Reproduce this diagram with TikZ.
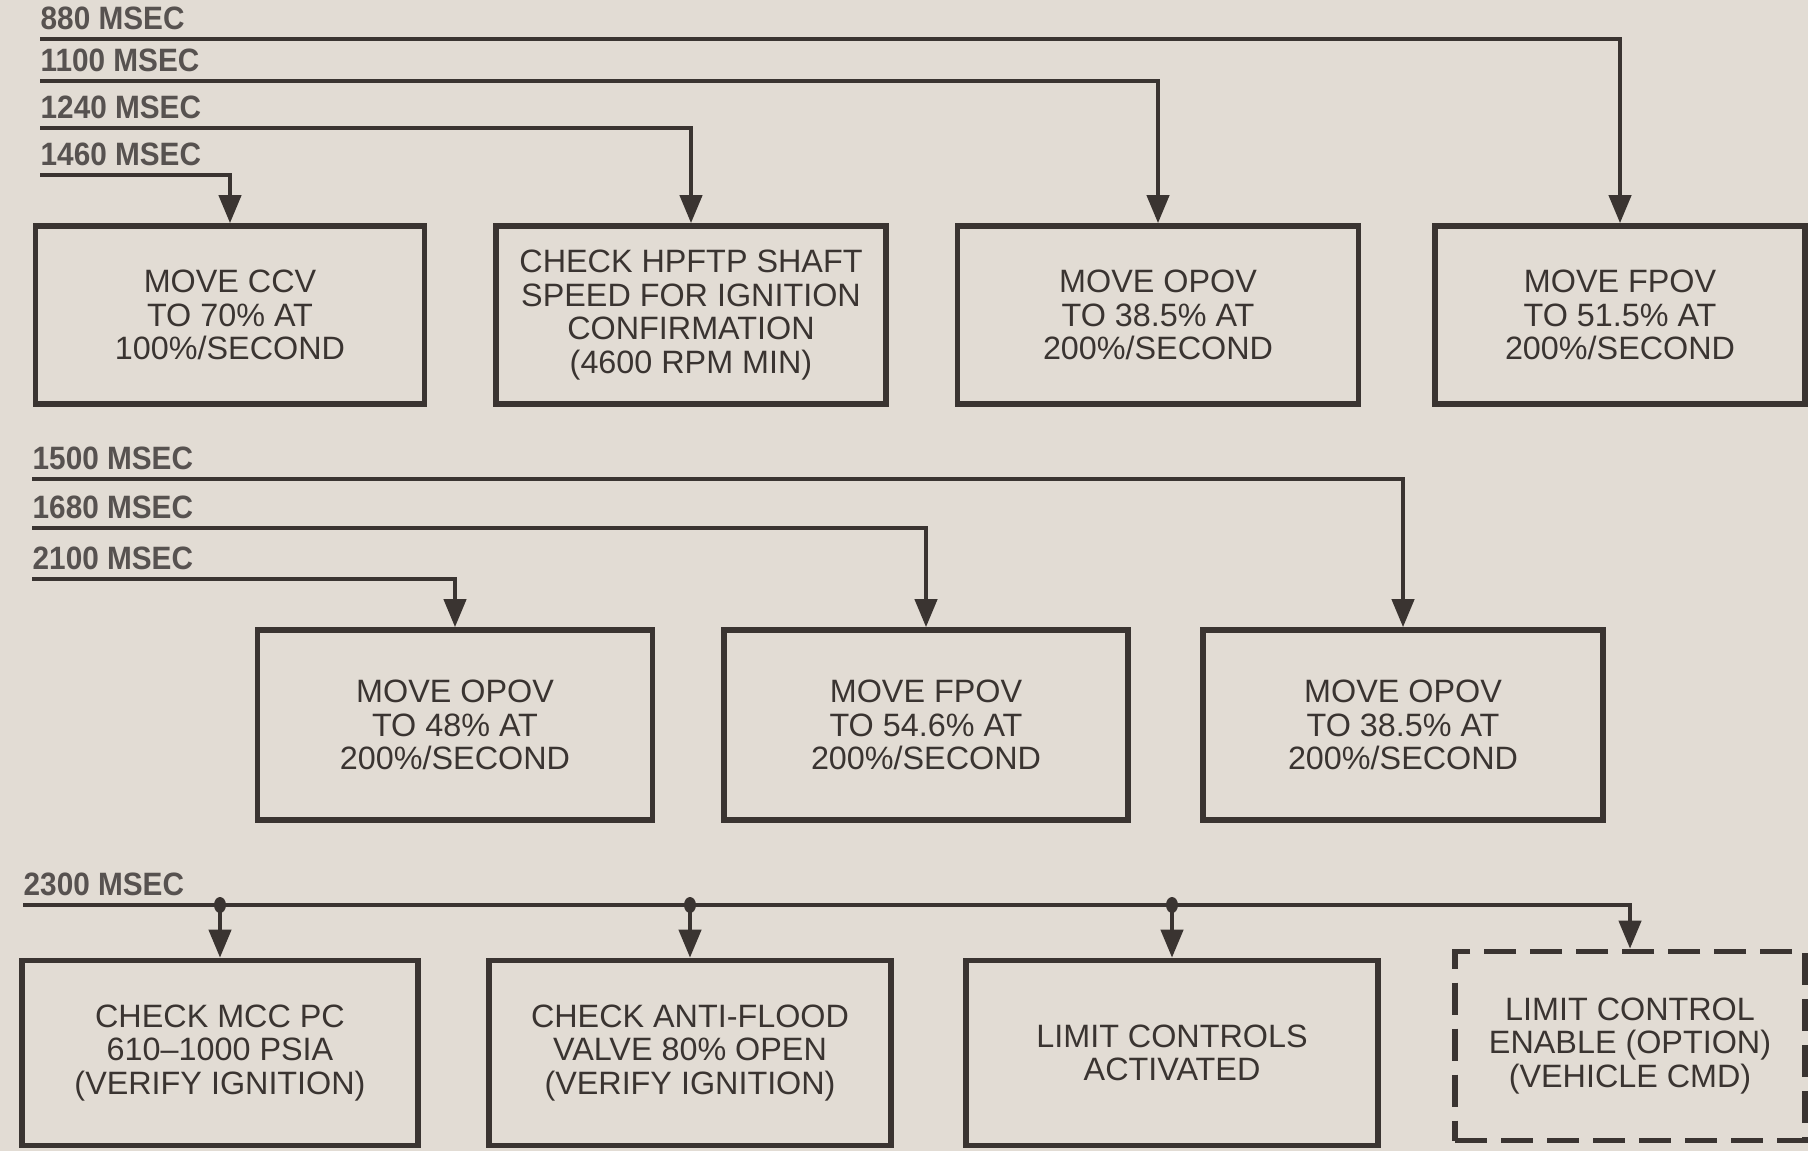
\documentclass[tikz,border=0pt]{standalone}
\usepackage{fontspec}
\setmainfont{Liberation Sans}
\newfontfamily\lblfont[FakeStretch=0.92]{Liberation Sans}
\usetikzlibrary{arrows.meta}
\definecolor{paper}{HTML}{E2DCD4}
\definecolor{ink}{HTML}{3A3431}
\tikzset{
  cmdbox/.style={draw=ink, line width=1.6pt, align=center, text=ink, inner sep=2pt,
    font=\fontsize{9.2}{9.5}\selectfont},
  optbox/.style={cmdbox, dash pattern=on 0.32cm off 0.14cm},
  timeline/.style={draw=ink, line width=1.2pt, -{Triangle[length=0.28cm,width=0.22cm]}},
  lbl/.style={anchor=south west, inner sep=0pt, yshift=0.08cm, text=ink!85,
    font=\lblfont\bfseries\fontsize{9.2}{10}\selectfont},
  dot/.style={fill=ink}
}

\begin{document}
\begin{tikzpicture}
\fill[paper] (0,0) rectangle (18.08,11.51);
\useasboundingbox (0,0) rectangle (18.08,11.51);

% first row of commands
\node[cmdbox, minimum width=3.89cm, minimum height=1.78cm] (ccv)   at (2.30,8.36)  {MOVE CCV\\TO 70\% AT\\100\%/SECOND};
\node[cmdbox, minimum width=3.90cm, minimum height=1.78cm] (hpftp) at (6.91,8.36)  {CHECK HPFTP SHAFT\\SPEED FOR IGNITION\\CONFIRMATION\\(4600 RPM MIN)};
\node[cmdbox, minimum width=4.01cm, minimum height=1.78cm] (opovA) at (11.58,8.36) {MOVE OPOV\\TO 38.5\% AT\\200\%/SECOND};
\node[cmdbox, minimum width=3.70cm, minimum height=1.78cm] (fpovA) at (16.20,8.36) {MOVE FPOV\\TO 51.5\% AT\\200\%/SECOND};
\foreach \y/\ms/\B in {11.12/880/fpovA,10.70/1100/opovA,10.23/1240/hpftp,9.76/1460/ccv} {
    \coordinate (t\ms) at (0.40,\y);
    \draw[timeline] (t\ms) -| (\B.north);
    \node[lbl] at (t\ms) {\ms\ MSEC};
}

% second row of commands
\node[cmdbox, minimum width=3.95cm, minimum height=1.90cm] (opovB) at (4.55,4.26)  {MOVE OPOV\\TO 48\% AT\\200\%/SECOND};
\node[cmdbox, minimum width=4.04cm, minimum height=1.90cm] (fpovB) at (9.26,4.26)  {MOVE FPOV\\TO 54.6\% AT\\200\%/SECOND};
\node[cmdbox, minimum width=4.00cm, minimum height=1.90cm] (opovC) at (14.03,4.26) {MOVE OPOV\\TO 38.5\% AT\\200\%/SECOND};
\foreach \y/\ms/\B in {6.72/1500/opovC,6.23/1680/fpovB,5.72/2100/opovB} {
    \coordinate (t\ms) at (0.32,\y);
    \draw[timeline] (t\ms) -| (\B.north);
    \node[lbl] at (t\ms) {\ms\ MSEC};
}

% checks at 2300 msec
\node[cmdbox, minimum width=3.96cm, minimum height=1.85cm] (mcc)    at (2.20,0.98)  {CHECK MCC PC\\610--1000 PSIA\\(VERIFY IGNITION)};
\node[cmdbox, minimum width=4.02cm, minimum height=1.85cm] (aflood) at (6.90,0.98)  {CHECK ANTI-FLOOD\\VALVE 80\% OPEN\\(VERIFY IGNITION)};
\node[cmdbox, minimum width=4.12cm, minimum height=1.85cm] (lca)    at (11.72,0.98) {LIMIT CONTROLS\\ACTIVATED};
\node[optbox, minimum width=3.50cm, minimum height=1.89cm] (lce)    at (16.30,1.05) {LIMIT CONTROL\\ENABLE (OPTION)\\(VEHICLE CMD)};
\coordinate (t2300) at (0.23,2.46);
\draw[timeline] (t2300) -| (lce.north);
\foreach \B in {mcc,aflood,lca} {
    \fill[dot] (\B.north |- t2300) ellipse (0.06 and 0.08);
    \draw[timeline] (\B.north |- t2300) -- (\B.north);
}
\node[lbl] at (t2300) {2300 MSEC};
\end{tikzpicture}
\end{document}
